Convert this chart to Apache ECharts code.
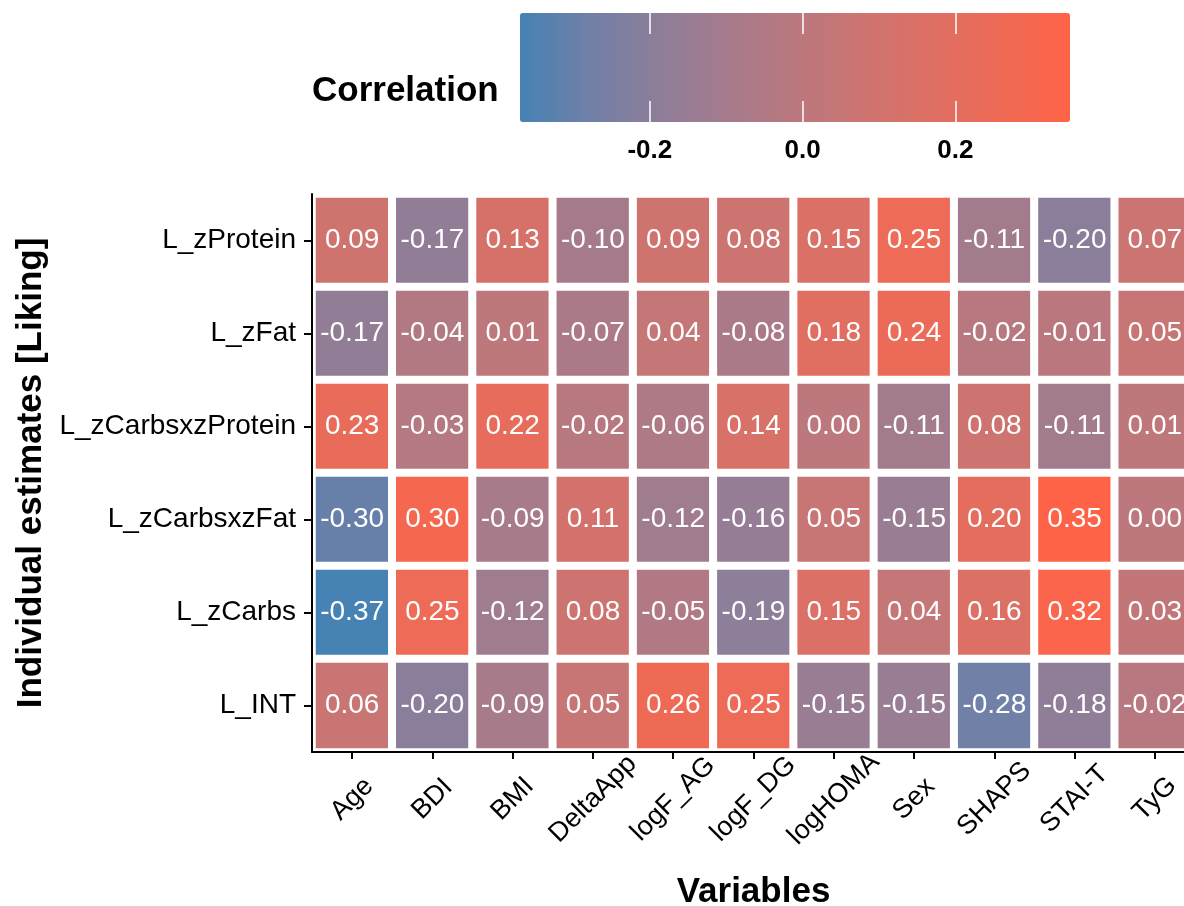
<!DOCTYPE html>
<html>
<head>
<meta charset="utf-8">
<script src="https://cdn.jsdelivr.net/npm/echarts@6/dist/echarts.min.js"></script>
<style>
html,body{margin:0;padding:0;background:#fff;}
#chart{width:1184px;height:906px;}
</style>
</head>
<body>
<div id="chart"></div>
<script>
const variables = ['Age','BDI','BMI','DeltaApp','logF_AG','logF_DG','logHOMA','Sex','SHAPS','STAI-T','TyG'];
const estimates = ['L_zProtein','L_zFat','L_zCarbsxzProtein','L_zCarbsxzFat','L_zCarbs','L_INT'];
const L_zProtein        = [0.09,-0.17, 0.13,-0.10, 0.09, 0.08, 0.15, 0.25,-0.11,-0.20, 0.07];
const L_zFat            = [-0.17,-0.04,0.01,-0.07, 0.04,-0.08, 0.18, 0.24,-0.02,-0.01, 0.05];
const L_zCarbsxzProtein = [0.23,-0.03, 0.22,-0.02,-0.06, 0.14, 0.00,-0.11, 0.08,-0.11, 0.01];
const L_zCarbsxzFat     = [-0.30,0.30,-0.09, 0.11,-0.12,-0.16, 0.05,-0.15, 0.20, 0.35, 0.00];
const L_zCarbs          = [-0.37,0.25,-0.12, 0.08,-0.05,-0.19, 0.15, 0.04, 0.16, 0.32, 0.03];
const L_INT             = [0.06,-0.20,-0.09, 0.05, 0.26, 0.25,-0.15,-0.15,-0.28,-0.18,-0.02];
const legendTicks = [-0.2, 0.0, 0.2];
const scaleMin = -0.37, scaleMax = 0.35;

const rows = [L_zProtein, L_zFat, L_zCarbsxzProtein, L_zCarbsxzFat, L_zCarbs, L_INT];
const data = [];
rows.forEach((r, yi) => r.forEach((v, xi) => data.push([xi, yi, v])));

const FONT = 'Liberation Sans, Arial, sans-serif';
const chart = echarts.init(document.getElementById('chart'), null, {renderer:'canvas'});
chart.setOption({
  animation: false,
  backgroundColor: '#ffffff',
  textStyle: {fontFamily: FONT},
  grid: [
    {left: 312, top: 194, width: 883, height: 558, containLabel: false, outerBoundsMode: 'none'},
    {left: 520, top: 13, width: 550, height: 109, containLabel: false, outerBoundsMode: 'none'}
  ],
  xAxis: [
    {
      type: 'category', gridIndex: 0, data: variables, z: 5,
      axisLine: {show: true, lineStyle: {color: '#000', width: 2}},
      axisTick: {show: true, length: 7, lineStyle: {color: '#000', width: 2}, alignWithLabel: true},
      axisLabel: {rotate: 45, color: '#000', fontSize: 27, fontFamily: FONT, margin: 47, interval: 0, align: 'center', verticalAlign: 'middle'},
      splitLine: {show: false},
      name: 'Variables', nameLocation: 'middle', nameGap: 123,
      nameTextStyle: {fontSize: 35, fontWeight: 'bold', color: '#000', fontFamily: FONT}
    },
    {
      type: 'value', gridIndex: 1, min: scaleMin, max: scaleMax, position: 'bottom', z: 10,
      axisLine: {show: false},
      axisTick: {show: true, inside: true, length: 21, customValues: legendTicks, lineStyle: {color: '#fff', width: 1.5}},
      axisLabel: {show: true, customValues: legendTicks, formatter: v => v.toFixed(1), color: '#000', fontSize: 26, fontWeight: 'bold', fontFamily: FONT, margin: 16},
      splitLine: {show: false}
    },
    {
      type: 'value', gridIndex: 1, min: scaleMin, max: scaleMax, position: 'top', z: 10,
      axisLine: {show: false},
      axisTick: {show: true, inside: true, length: 21, customValues: legendTicks, lineStyle: {color: '#fff', width: 1.5}},
      axisLabel: {show: false},
      splitLine: {show: false}
    }
  ],
  yAxis: [
    {
      type: 'category', gridIndex: 0, data: estimates, inverse: true, z: 5,
      axisLine: {show: true, lineStyle: {color: '#000', width: 2}},
      axisTick: {show: true, length: 8, lineStyle: {color: '#000', width: 2}, alignWithLabel: true},
      axisLabel: {color: '#000', fontSize: 28, fontFamily: FONT, margin: 16},
      splitLine: {show: false},
      name: 'Individual estimates [Liking]', nameLocation: 'middle', nameGap: 263,
      nameTextStyle: {fontSize: 35, fontWeight: 'bold', color: '#000', fontFamily: FONT}
    },
    {type: 'value', gridIndex: 1, show: false, min: 0, max: 1}
  ],
  visualMap: {
    type: 'continuous', min: scaleMin, max: scaleMax, seriesIndex: 0,
    orient: 'horizontal', left: 520, top: 13, itemWidth: 109, itemHeight: 550,
    padding: 0, calculable: false, text: null, showLabel: false, hoverLink: false,
    inRange: {color: ['#4682B4','#7080A7','#8D7E99','#A57B8C','#BA787E','#CD7471','#DE6F63','#EF6A55','#FF6347']}
  },
  graphic: [
    {type: 'text', left: 312, top: 74, style: {text: 'Correlation', font: 'bold 35px ' + FONT, fill: '#000'}}
  ],
  series: [{
    type: 'heatmap', xAxisIndex: 0, yAxisIndex: 0, data: data,
    itemStyle: {borderColor: '#fff', borderWidth: 8},
    label: {show: true, color: '#fff', fontSize: 28, fontFamily: FONT, formatter: p => p.value[2].toFixed(2)},
    emphasis: {disabled: true}
  }]
});
</script>
</body>
</html>
